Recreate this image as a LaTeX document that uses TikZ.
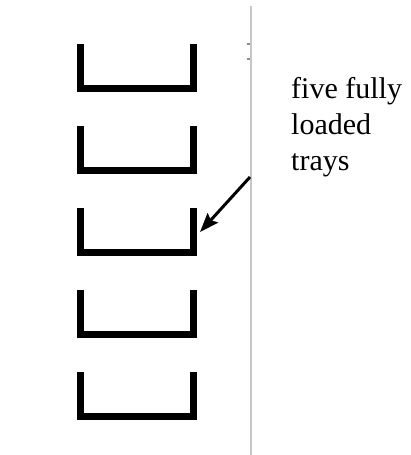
\documentclass[tikz,border=0pt]{standalone}
\usepackage{fontspec}
\setmainfont{Liberation Serif}
\usetikzlibrary{arrows.meta}
\begin{document}
\begin{tikzpicture}[x=1pt,y=-1pt,
  tray/.style={line width=7pt,line join=miter,black},
  divider/.style={line width=2pt,black!22},
  tick/.style={line width=2pt,black!45},
  pointer/.style={line width=3pt,-{Stealth[length=19pt,width=14pt,inset=3pt]}},
  label/.style={anchor=north west,inner sep=0pt,align=left,
    font=\fontsize{30pt}{36pt}\selectfont}]
  \useasboundingbox (0,0) rectangle (410,455);
  % five stacked trays
  \foreach \k in {0,...,4}{
    \pgfmathsetmacro{\top}{44+82*\k}
    \pgfmathsetmacro{\bot}{88.5+82*\k}
    \draw[tray] (80.5,\top) -- (80.5,\bot) -- (193.5,\bot) -- (193.5,\top);
    \coordinate (r\k) at (200,\top+24);
  }
  % vertical divider with its two small marks
  \coordinate (dtop) at (250.5,6);
  \coordinate (dbot) at (250.5,455);
  \draw[divider] (dtop) -- (dbot);
  \coordinate (m1a) at (246.5,43.5); \coordinate (m1b) at (250,43.5);
  \coordinate (m2a) at (246.5,59);   \coordinate (m2b) at (250,59);
  \draw[tick] (m1a) -- (m1b);
  \draw[tick] (m2a) -- (m2b);
  % caption and its pointer
  \node[label] (cap) at (291,77) {five fully\\loaded\\trays};
  \coordinate (ps) at (250,177);
  \draw[pointer] (ps) -- (r2);
\end{tikzpicture}
\end{document}
